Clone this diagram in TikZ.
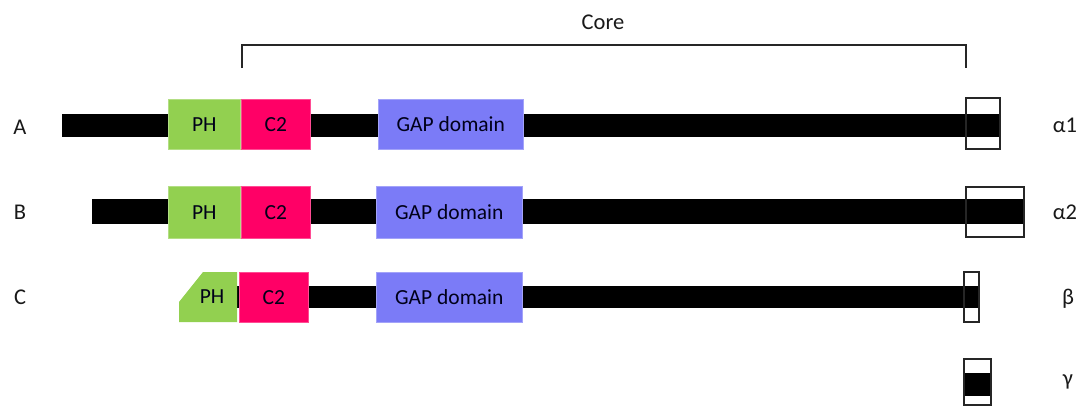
\documentclass[tikz,border=0pt]{standalone}
\usepackage{fontspec}
\setmainfont{Carlito}
\begin{document}
\begin{tikzpicture}[x=1pt,y=-1pt,
  dom/.style={inner sep=0pt, anchor=north west, font=\fontsize{21.5}{23}\selectfont, text=black!90!blue},
  ph/.style={dom, fill=phg, draw=phg!70!white, line width=0.6pt},
  ctwo/.style={dom, fill=c2p, draw=c2p!70!white, line width=0.6pt},
  gap/.style={dom, fill=gapb, draw=gapb!70!white, line width=0.6pt},
  lab/.style={font=\fontsize{22.5}{24}\selectfont, text=black!90},
  tail/.style={draw=black!85, line width=1.1pt},
  barfill/.style={fill=black}
]
\definecolor{phg}{HTML}{92D050}
\definecolor{c2p}{HTML}{FF0066}
\definecolor{gapb}{HTML}{7B7BF7}
\useasboundingbox (0,0) rectangle (1089,408);

% Core bracket
\node[lab] (core) at (603,22) {Core};
\coordinate (bl) at (242,68);
\coordinate (br) at (966,68);
\draw[line width=1.8pt, black!85] (bl) |- (604,45) -| (br);

% Row A
\fill[barfill] (62,114) rectangle (1000,137);
\node[ph, minimum width=72pt, minimum height=50pt] (pha) at (168,99) {PH};
\node[ctwo, minimum width=69pt, minimum height=50pt] (c2a) at (241,99) {C2};
\node[gap, minimum width=145pt, minimum height=50pt] (gapa) at (378,99) {GAP domain};
\draw[tail] (966,98) rectangle (1000,149);
\node[lab] (la) at (20,127) {A};
\node[lab] (ra) at (1065,125) {α1};

% Row B
\fill[barfill] (92,199) rectangle (1024,224);
\node[ph, minimum width=72pt, minimum height=52pt] (phb) at (168,186) {PH};
\node[ctwo, minimum width=69pt, minimum height=52pt] (c2b) at (241,186) {C2};
\node[gap, minimum width=146pt, minimum height=52pt] (gapb) at (376,186) {GAP domain};
\draw[tail] (966,187) rectangle (1024,237);
\node[lab] (lb) at (20,212) {B};
\node[lab] (rb) at (1065,212) {α2};

% Row C
\fill[barfill] (234,286) rectangle (978,308);
\fill[phg] (203,272) -- (237,272) -- (237,322) -- (179,322) -- (179,302) -- cycle;
\node[font=\fontsize{21.5}{23}\selectfont, text=black!90!blue] (phc) at (212,297) {PH};
\node[ctwo, minimum width=69pt, minimum height=50pt] (c2c) at (239,272) {C2};
\node[gap, minimum width=146pt, minimum height=50pt] (gapc) at (376,272) {GAP domain};
\draw[tail] (964,272) rectangle (979,322);
\node[lab] (lc) at (20,297) {C};
\node[lab] (rc) at (1068,299) {β};

% gamma
\fill[barfill] (964,373) rectangle (991,396);
\draw[tail] (964,359) rectangle (991,405);
\node[lab] (rg) at (1068,382) {γ};
\end{tikzpicture}
\end{document}
